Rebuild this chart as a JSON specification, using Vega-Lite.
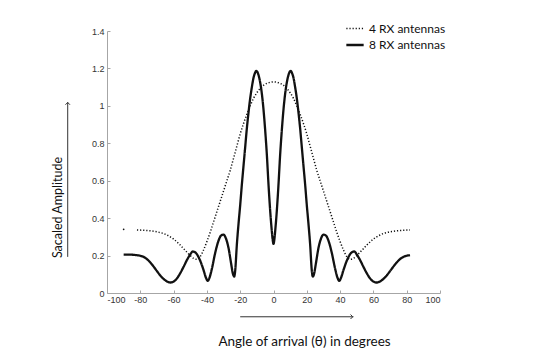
{
  "$schema": "https://vega.github.io/schema/vega-lite/v6.json",
  "width": 333,
  "height": 262,
  "autosize": {"type": "none"},
  "padding": {"left": 107, "top": 31, "right": 111, "bottom": 67},
  "background": "white",
  "config": {"view": {"stroke": null}, "font": "Liberation Sans"},
  "resolve": {"axis": {"x": "independent", "y": "independent"}},
  "datasets": {
    "curves": [
      {"a": -90, "v": 0.205, "s": "8 RX antennas", "g": "8"},
      {"a": -88, "v": 0.205, "s": "8 RX antennas", "g": "8"},
      {"a": -86, "v": 0.205, "s": "8 RX antennas", "g": "8"},
      {"a": -84, "v": 0.204, "s": "8 RX antennas", "g": "8"},
      {"a": -82, "v": 0.202, "s": "8 RX antennas", "g": "8"},
      {"a": -80, "v": 0.199, "s": "8 RX antennas", "g": "8"},
      {"a": -78, "v": 0.193, "s": "8 RX antennas", "g": "8"},
      {"a": -76, "v": 0.181, "s": "8 RX antennas", "g": "8"},
      {"a": -74, "v": 0.163, "s": "8 RX antennas", "g": "8"},
      {"a": -72, "v": 0.141, "s": "8 RX antennas", "g": "8"},
      {"a": -70, "v": 0.117, "s": "8 RX antennas", "g": "8"},
      {"a": -68, "v": 0.094, "s": "8 RX antennas", "g": "8"},
      {"a": -66, "v": 0.075, "s": "8 RX antennas", "g": "8"},
      {"a": -64, "v": 0.062, "s": "8 RX antennas", "g": "8"},
      {"a": -62, "v": 0.056, "s": "8 RX antennas", "g": "8"},
      {"a": -60, "v": 0.061, "s": "8 RX antennas", "g": "8"},
      {"a": -58, "v": 0.078, "s": "8 RX antennas", "g": "8"},
      {"a": -56, "v": 0.106, "s": "8 RX antennas", "g": "8"},
      {"a": -54, "v": 0.14, "s": "8 RX antennas", "g": "8"},
      {"a": -52, "v": 0.176, "s": "8 RX antennas", "g": "8"},
      {"a": -50, "v": 0.206, "s": "8 RX antennas", "g": "8"},
      {"a": -48.5, "v": 0.222, "s": "8 RX antennas", "g": "8"},
      {"a": -47, "v": 0.217, "s": "8 RX antennas", "g": "8"},
      {"a": -46, "v": 0.207, "s": "8 RX antennas", "g": "8"},
      {"a": -44, "v": 0.172, "s": "8 RX antennas", "g": "8"},
      {"a": -42, "v": 0.122, "s": "8 RX antennas", "g": "8"},
      {"a": -40.5, "v": 0.08, "s": "8 RX antennas", "g": "8"},
      {"a": -39.5, "v": 0.065, "s": "8 RX antennas", "g": "8"},
      {"a": -38.5, "v": 0.08, "s": "8 RX antennas", "g": "8"},
      {"a": -37, "v": 0.13, "s": "8 RX antennas", "g": "8"},
      {"a": -35, "v": 0.215, "s": "8 RX antennas", "g": "8"},
      {"a": -33, "v": 0.28, "s": "8 RX antennas", "g": "8"},
      {"a": -31.5, "v": 0.307, "s": "8 RX antennas", "g": "8"},
      {"a": -30, "v": 0.312, "s": "8 RX antennas", "g": "8"},
      {"a": -28.5, "v": 0.29, "s": "8 RX antennas", "g": "8"},
      {"a": -27, "v": 0.24, "s": "8 RX antennas", "g": "8"},
      {"a": -25.5, "v": 0.16, "s": "8 RX antennas", "g": "8"},
      {"a": -24.3, "v": 0.1, "s": "8 RX antennas", "g": "8"},
      {"a": -23.6, "v": 0.088, "s": "8 RX antennas", "g": "8"},
      {"a": -23, "v": 0.12, "s": "8 RX antennas", "g": "8"},
      {"a": -22, "v": 0.26, "s": "8 RX antennas", "g": "8"},
      {"a": -21, "v": 0.37, "s": "8 RX antennas", "g": "8"},
      {"a": -20, "v": 0.47, "s": "8 RX antennas", "g": "8"},
      {"a": -19, "v": 0.58, "s": "8 RX antennas", "g": "8"},
      {"a": -18, "v": 0.68, "s": "8 RX antennas", "g": "8"},
      {"a": -17, "v": 0.78, "s": "8 RX antennas", "g": "8"},
      {"a": -16, "v": 0.88, "s": "8 RX antennas", "g": "8"},
      {"a": -15, "v": 0.965, "s": "8 RX antennas", "g": "8"},
      {"a": -14, "v": 1.04, "s": "8 RX antennas", "g": "8"},
      {"a": -13, "v": 1.1, "s": "8 RX antennas", "g": "8"},
      {"a": -12, "v": 1.15, "s": "8 RX antennas", "g": "8"},
      {"a": -11, "v": 1.178, "s": "8 RX antennas", "g": "8"},
      {"a": -10.4, "v": 1.187, "s": "8 RX antennas", "g": "8"},
      {"a": -9.6, "v": 1.18, "s": "8 RX antennas", "g": "8"},
      {"a": -9, "v": 1.165, "s": "8 RX antennas", "g": "8"},
      {"a": -8, "v": 1.125, "s": "8 RX antennas", "g": "8"},
      {"a": -7, "v": 1.065, "s": "8 RX antennas", "g": "8"},
      {"a": -6, "v": 0.98, "s": "8 RX antennas", "g": "8"},
      {"a": -5, "v": 0.87, "s": "8 RX antennas", "g": "8"},
      {"a": -4, "v": 0.74, "s": "8 RX antennas", "g": "8"},
      {"a": -3, "v": 0.58, "s": "8 RX antennas", "g": "8"},
      {"a": -2, "v": 0.44, "s": "8 RX antennas", "g": "8"},
      {"a": -1, "v": 0.33, "s": "8 RX antennas", "g": "8"},
      {"a": -0.5, "v": 0.285, "s": "8 RX antennas", "g": "8"},
      {"a": 0, "v": 0.262, "s": "8 RX antennas", "g": "8"},
      {"a": 0.5, "v": 0.285, "s": "8 RX antennas", "g": "8"},
      {"a": 1, "v": 0.33, "s": "8 RX antennas", "g": "8"},
      {"a": 2, "v": 0.44, "s": "8 RX antennas", "g": "8"},
      {"a": 3, "v": 0.58, "s": "8 RX antennas", "g": "8"},
      {"a": 4, "v": 0.74, "s": "8 RX antennas", "g": "8"},
      {"a": 5, "v": 0.87, "s": "8 RX antennas", "g": "8"},
      {"a": 6, "v": 0.98, "s": "8 RX antennas", "g": "8"},
      {"a": 7, "v": 1.065, "s": "8 RX antennas", "g": "8"},
      {"a": 8, "v": 1.125, "s": "8 RX antennas", "g": "8"},
      {"a": 9, "v": 1.165, "s": "8 RX antennas", "g": "8"},
      {"a": 9.6, "v": 1.18, "s": "8 RX antennas", "g": "8"},
      {"a": 10.4, "v": 1.187, "s": "8 RX antennas", "g": "8"},
      {"a": 11, "v": 1.178, "s": "8 RX antennas", "g": "8"},
      {"a": 12, "v": 1.15, "s": "8 RX antennas", "g": "8"},
      {"a": 13, "v": 1.1, "s": "8 RX antennas", "g": "8"},
      {"a": 14, "v": 1.04, "s": "8 RX antennas", "g": "8"},
      {"a": 15, "v": 0.965, "s": "8 RX antennas", "g": "8"},
      {"a": 16, "v": 0.88, "s": "8 RX antennas", "g": "8"},
      {"a": 17, "v": 0.78, "s": "8 RX antennas", "g": "8"},
      {"a": 18, "v": 0.68, "s": "8 RX antennas", "g": "8"},
      {"a": 19, "v": 0.58, "s": "8 RX antennas", "g": "8"},
      {"a": 20, "v": 0.47, "s": "8 RX antennas", "g": "8"},
      {"a": 21, "v": 0.37, "s": "8 RX antennas", "g": "8"},
      {"a": 22, "v": 0.26, "s": "8 RX antennas", "g": "8"},
      {"a": 23, "v": 0.12, "s": "8 RX antennas", "g": "8"},
      {"a": 23.6, "v": 0.088, "s": "8 RX antennas", "g": "8"},
      {"a": 24.3, "v": 0.1, "s": "8 RX antennas", "g": "8"},
      {"a": 25.5, "v": 0.16, "s": "8 RX antennas", "g": "8"},
      {"a": 27, "v": 0.24, "s": "8 RX antennas", "g": "8"},
      {"a": 28.5, "v": 0.29, "s": "8 RX antennas", "g": "8"},
      {"a": 30, "v": 0.312, "s": "8 RX antennas", "g": "8"},
      {"a": 31.5, "v": 0.307, "s": "8 RX antennas", "g": "8"},
      {"a": 33, "v": 0.28, "s": "8 RX antennas", "g": "8"},
      {"a": 35, "v": 0.215, "s": "8 RX antennas", "g": "8"},
      {"a": 37, "v": 0.13, "s": "8 RX antennas", "g": "8"},
      {"a": 38.5, "v": 0.08, "s": "8 RX antennas", "g": "8"},
      {"a": 39.5, "v": 0.065, "s": "8 RX antennas", "g": "8"},
      {"a": 40.5, "v": 0.08, "s": "8 RX antennas", "g": "8"},
      {"a": 42, "v": 0.122, "s": "8 RX antennas", "g": "8"},
      {"a": 44, "v": 0.172, "s": "8 RX antennas", "g": "8"},
      {"a": 46, "v": 0.207, "s": "8 RX antennas", "g": "8"},
      {"a": 47, "v": 0.217, "s": "8 RX antennas", "g": "8"},
      {"a": 48.5, "v": 0.222, "s": "8 RX antennas", "g": "8"},
      {"a": 50, "v": 0.206, "s": "8 RX antennas", "g": "8"},
      {"a": 52, "v": 0.176, "s": "8 RX antennas", "g": "8"},
      {"a": 54, "v": 0.14, "s": "8 RX antennas", "g": "8"},
      {"a": 56, "v": 0.106, "s": "8 RX antennas", "g": "8"},
      {"a": 58, "v": 0.078, "s": "8 RX antennas", "g": "8"},
      {"a": 60, "v": 0.061, "s": "8 RX antennas", "g": "8"},
      {"a": 62, "v": 0.056, "s": "8 RX antennas", "g": "8"},
      {"a": 64, "v": 0.062, "s": "8 RX antennas", "g": "8"},
      {"a": 66, "v": 0.075, "s": "8 RX antennas", "g": "8"},
      {"a": 68, "v": 0.094, "s": "8 RX antennas", "g": "8"},
      {"a": 70, "v": 0.117, "s": "8 RX antennas", "g": "8"},
      {"a": 72, "v": 0.141, "s": "8 RX antennas", "g": "8"},
      {"a": 74, "v": 0.163, "s": "8 RX antennas", "g": "8"},
      {"a": 76, "v": 0.181, "s": "8 RX antennas", "g": "8"},
      {"a": 78, "v": 0.193, "s": "8 RX antennas", "g": "8"},
      {"a": 80, "v": 0.199, "s": "8 RX antennas", "g": "8"},
      {"a": 82, "v": 0.202, "s": "8 RX antennas", "g": "8"},

      {"a": -82, "v": 0.337, "s": "4 RX antennas", "g": "4"},
      {"a": -80, "v": 0.336, "s": "4 RX antennas", "g": "4"},
      {"a": -78, "v": 0.335, "s": "4 RX antennas", "g": "4"},
      {"a": -76, "v": 0.334, "s": "4 RX antennas", "g": "4"},
      {"a": -74, "v": 0.332, "s": "4 RX antennas", "g": "4"},
      {"a": -72, "v": 0.33, "s": "4 RX antennas", "g": "4"},
      {"a": -70, "v": 0.327, "s": "4 RX antennas", "g": "4"},
      {"a": -68, "v": 0.323, "s": "4 RX antennas", "g": "4"},
      {"a": -66, "v": 0.318, "s": "4 RX antennas", "g": "4"},
      {"a": -64, "v": 0.31, "s": "4 RX antennas", "g": "4"},
      {"a": -62, "v": 0.3, "s": "4 RX antennas", "g": "4"},
      {"a": -60, "v": 0.288, "s": "4 RX antennas", "g": "4"},
      {"a": -58, "v": 0.273, "s": "4 RX antennas", "g": "4"},
      {"a": -56, "v": 0.256, "s": "4 RX antennas", "g": "4"},
      {"a": -54, "v": 0.237, "s": "4 RX antennas", "g": "4"},
      {"a": -52, "v": 0.218, "s": "4 RX antennas", "g": "4"},
      {"a": -50, "v": 0.2, "s": "4 RX antennas", "g": "4"},
      {"a": -48, "v": 0.185, "s": "4 RX antennas", "g": "4"},
      {"a": -46, "v": 0.18, "s": "4 RX antennas", "g": "4"},
      {"a": -44, "v": 0.195, "s": "4 RX antennas", "g": "4"},
      {"a": -42, "v": 0.23, "s": "4 RX antennas", "g": "4"},
      {"a": -40, "v": 0.275, "s": "4 RX antennas", "g": "4"},
      {"a": -38, "v": 0.325, "s": "4 RX antennas", "g": "4"},
      {"a": -36, "v": 0.38, "s": "4 RX antennas", "g": "4"},
      {"a": -34, "v": 0.435, "s": "4 RX antennas", "g": "4"},
      {"a": -32, "v": 0.49, "s": "4 RX antennas", "g": "4"},
      {"a": -30, "v": 0.545, "s": "4 RX antennas", "g": "4"},
      {"a": -28, "v": 0.6, "s": "4 RX antennas", "g": "4"},
      {"a": -26, "v": 0.655, "s": "4 RX antennas", "g": "4"},
      {"a": -24, "v": 0.72, "s": "4 RX antennas", "g": "4"},
      {"a": -22, "v": 0.785, "s": "4 RX antennas", "g": "4"},
      {"a": -20, "v": 0.85, "s": "4 RX antennas", "g": "4"},
      {"a": -18, "v": 0.905, "s": "4 RX antennas", "g": "4"},
      {"a": -16, "v": 0.955, "s": "4 RX antennas", "g": "4"},
      {"a": -14, "v": 1.0, "s": "4 RX antennas", "g": "4"},
      {"a": -12, "v": 1.04, "s": "4 RX antennas", "g": "4"},
      {"a": -10, "v": 1.07, "s": "4 RX antennas", "g": "4"},
      {"a": -8, "v": 1.093, "s": "4 RX antennas", "g": "4"},
      {"a": -6, "v": 1.11, "s": "4 RX antennas", "g": "4"},
      {"a": -4, "v": 1.12, "s": "4 RX antennas", "g": "4"},
      {"a": -2, "v": 1.126, "s": "4 RX antennas", "g": "4"},
      {"a": 0, "v": 1.128, "s": "4 RX antennas", "g": "4"},
      {"a": 2, "v": 1.126, "s": "4 RX antennas", "g": "4"},
      {"a": 4, "v": 1.12, "s": "4 RX antennas", "g": "4"},
      {"a": 6, "v": 1.11, "s": "4 RX antennas", "g": "4"},
      {"a": 8, "v": 1.093, "s": "4 RX antennas", "g": "4"},
      {"a": 10, "v": 1.07, "s": "4 RX antennas", "g": "4"},
      {"a": 12, "v": 1.04, "s": "4 RX antennas", "g": "4"},
      {"a": 14, "v": 1.0, "s": "4 RX antennas", "g": "4"},
      {"a": 16, "v": 0.955, "s": "4 RX antennas", "g": "4"},
      {"a": 18, "v": 0.905, "s": "4 RX antennas", "g": "4"},
      {"a": 20, "v": 0.85, "s": "4 RX antennas", "g": "4"},
      {"a": 22, "v": 0.785, "s": "4 RX antennas", "g": "4"},
      {"a": 24, "v": 0.72, "s": "4 RX antennas", "g": "4"},
      {"a": 26, "v": 0.655, "s": "4 RX antennas", "g": "4"},
      {"a": 28, "v": 0.6, "s": "4 RX antennas", "g": "4"},
      {"a": 30, "v": 0.545, "s": "4 RX antennas", "g": "4"},
      {"a": 32, "v": 0.49, "s": "4 RX antennas", "g": "4"},
      {"a": 34, "v": 0.435, "s": "4 RX antennas", "g": "4"},
      {"a": 36, "v": 0.38, "s": "4 RX antennas", "g": "4"},
      {"a": 38, "v": 0.325, "s": "4 RX antennas", "g": "4"},
      {"a": 40, "v": 0.275, "s": "4 RX antennas", "g": "4"},
      {"a": 42, "v": 0.23, "s": "4 RX antennas", "g": "4"},
      {"a": 44, "v": 0.195, "s": "4 RX antennas", "g": "4"},
      {"a": 46, "v": 0.18, "s": "4 RX antennas", "g": "4"},
      {"a": 48, "v": 0.185, "s": "4 RX antennas", "g": "4"},
      {"a": 50, "v": 0.2, "s": "4 RX antennas", "g": "4"},
      {"a": 52, "v": 0.218, "s": "4 RX antennas", "g": "4"},
      {"a": 54, "v": 0.237, "s": "4 RX antennas", "g": "4"},
      {"a": 56, "v": 0.256, "s": "4 RX antennas", "g": "4"},
      {"a": 58, "v": 0.273, "s": "4 RX antennas", "g": "4"},
      {"a": 60, "v": 0.288, "s": "4 RX antennas", "g": "4"},
      {"a": 62, "v": 0.3, "s": "4 RX antennas", "g": "4"},
      {"a": 64, "v": 0.31, "s": "4 RX antennas", "g": "4"},
      {"a": 66, "v": 0.318, "s": "4 RX antennas", "g": "4"},
      {"a": 68, "v": 0.323, "s": "4 RX antennas", "g": "4"},
      {"a": 70, "v": 0.327, "s": "4 RX antennas", "g": "4"},
      {"a": 72, "v": 0.33, "s": "4 RX antennas", "g": "4"},
      {"a": 74, "v": 0.332, "s": "4 RX antennas", "g": "4"},
      {"a": 76, "v": 0.334, "s": "4 RX antennas", "g": "4"},
      {"a": 78, "v": 0.335, "s": "4 RX antennas", "g": "4"},
      {"a": 80, "v": 0.336, "s": "4 RX antennas", "g": "4"},
      {"a": 82, "v": 0.337, "s": "4 RX antennas", "g": "4"}
    ],
    "lone": [
      {"a": -90, "v": 0.34}
    ]
  },
  "layer": [
    {
      "data": {"name": "curves"},
      "mark": {"type": "line", "color": "#111111", "interpolate": "monotone"},
      "encoding": {
        "x": {
          "field": "a", "type": "quantitative",
          "scale": {"domain": [-100, 100], "nice": false},
          "axis": {
            "values": [-100, -80, -60, -40, -20, 0, 20, 40, 60, 80, 100],
            "labelExpr": "toString(datum.value)", "labelOverlap": false,
            "grid": false, "domainColor": "#a6a6a6", "tickColor": "#a6a6a6",
            "tickSize": -3, "labelPadding": 5, "labelFontSize": 9,
            "labelColor": "#333333", "labelFont": "Liberation Sans",
            "title": "Angle of arrival (θ)  in degrees",
            "titleFont": "Lato", "titleFontSize": 13.5, "titleFontWeight": "normal",
            "titleColor": "#111111", "titleX": 197, "titleY": 48,
            "titleBaseline": "middle", "titleAlign": "center"
          }
        },
        "y": {
          "field": "v", "type": "quantitative",
          "scale": {"domain": [0, 1.4], "nice": false},
          "axis": {
            "values": [0, 0.2, 0.4, 0.6, 0.8, 1, 1.2, 1.4],
            "labelExpr": "toString(datum.value)", "labelOverlap": false,
            "grid": false, "domainColor": "#a6a6a6", "tickColor": "#a6a6a6",
            "tickSize": -3, "labelPadding": 6, "labelFontSize": 9,
            "labelColor": "#333333", "labelFont": "Liberation Sans",
            "title": "Sacaled Amplitude",
            "titleFont": "Lato", "titleFontSize": 12.5, "titleFontWeight": "normal",
            "titleColor": "#111111", "titleX": -50, "titleY": 176,
            "titleBaseline": "middle", "titleAlign": "center", "titleAngle": -90
          }
        },
        "detail": {"field": "g"},
        "strokeDash": {
          "field": "s", "type": "nominal",
          "scale": {"domain": ["4 RX antennas", "8 RX antennas"], "range": [[1.2, 1.9], [1, 0]]},
          "legend": {
            "orient": "none", "legendX": 238, "legendY": -12, "title": null,
            "symbolType": "stroke", "symbolSize": 300, "symbolStrokeColor": "#111111",
            "labelFont": "Lato", "labelFontSize": 12, "labelColor": "#111111",
            "labelOffset": 4, "rowPadding": 0
          }
        },
        "strokeWidth": {
          "field": "s", "type": "nominal",
          "scale": {"domain": ["4 RX antennas", "8 RX antennas"], "range": [1.5, 2.3]},
          "legend": {
            "orient": "none", "legendX": 238, "legendY": -12, "title": null,
            "symbolType": "stroke", "symbolSize": 300, "symbolStrokeColor": "#111111",
            "labelFont": "Lato", "labelFontSize": 12, "labelColor": "#111111",
            "labelOffset": 4, "rowPadding": 0
          }
        }
      }
    },
    {
      "data": {"name": "lone"},
      "mark": {"type": "point", "filled": true, "color": "#111111", "size": 3, "opacity": 1},
      "encoding": {
        "x": {"field": "a", "type": "quantitative", "axis": null},
        "y": {"field": "v", "type": "quantitative", "axis": null}
      }
    },
    {
      "data": {"values": [{}]},
      "mark": {"type": "rule", "color": "#333333", "strokeWidth": 1, "clip": false},
      "encoding": {
        "x": {"datum": -20, "axis": null}, "x2": {"datum": 48}, "y": {"datum": -0.127, "axis": null}
      }
    },
    {
      "data": {"values": [{}]},
      "mark": {"type": "point", "shape": "M-1,-1L0,0L-1,1", "filled": false, "color": "#333333", "strokeWidth": 1, "size": 20, "opacity": 1, "clip": false},
      "encoding": {
        "x": {"datum": 47.6, "axis": null}, "y": {"datum": -0.127, "axis": null}
      }
    },
    {
      "data": {"values": [{}]},
      "mark": {"type": "rule", "color": "#333333", "strokeWidth": 1, "clip": false},
      "encoding": {
        "x": {"datum": -123.6, "axis": null}, "y": {"datum": 0.193, "axis": null}, "y2": {"datum": 1.02}
      }
    },
    {
      "data": {"values": [{}]},
      "mark": {"type": "point", "shape": "M-1,1L0,0L1,1", "filled": false, "color": "#333333", "strokeWidth": 1, "size": 20, "opacity": 1, "clip": false},
      "encoding": {
        "x": {"datum": -123.6, "axis": null}, "y": {"datum": 1.018, "axis": null}
      }
    }
  ]
}
